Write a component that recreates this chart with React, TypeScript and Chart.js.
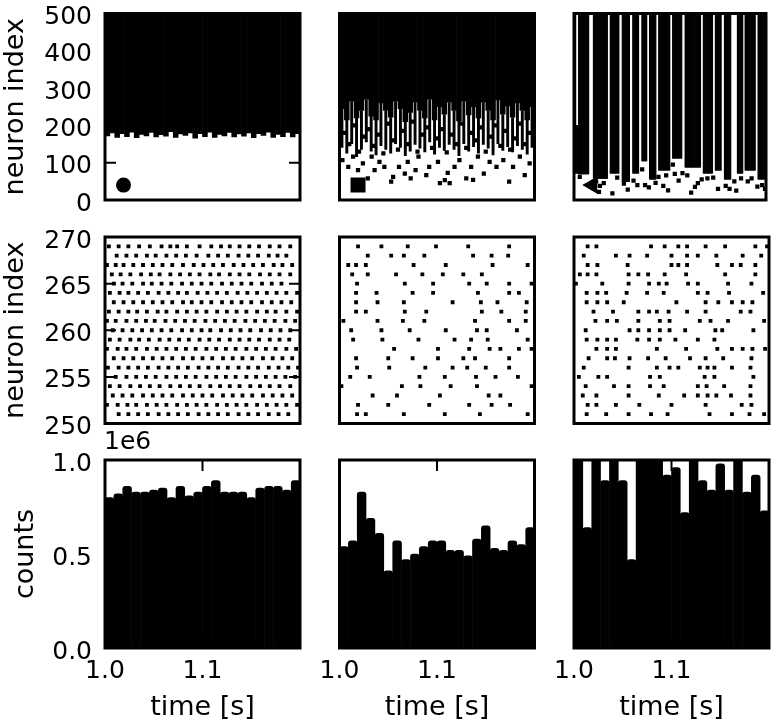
import React, { useEffect, useRef } from 'react';
import { Chart, registerables } from 'chart.js';

Chart.register(...registerables);
Chart.defaults.font.family = "'DejaVu Sans', sans-serif";
Chart.defaults.color = '#000';

// ---------------- layout constants ----------------
const FIG_W = 776;
const FIG_H = 727;
const COL_L = [105, 339.5, 574];
const PANEL_W = 195;
const ROW_T = [13.5, 237, 460];
const ROW_B = [200, 423.5, 648];
const TICK_FONT = 25;
const LABEL_FONT = 27;

// ---------------- data (time offsets in ms after t = 1.0 s) ----------------
const T_MIN = 1.0;
const T_MAX = 1.2;
const X_TICKS = [1.0, 1.1];

// Top row: dense raster blocks, columns of 5 ms
const COL_MS = [2.5, 7.5, 12.5, 17.5, 22.5, 27.5, 32.5, 37.5, 42.5, 47.5, 52.5, 57.5, 62.5, 67.5, 72.5, 77.5, 82.5, 87.5, 92.5, 97.5,
  102.5, 107.5, 112.5, 117.5, 122.5, 127.5, 132.5, 137.5, 142.5, 147.5, 152.5, 157.5, 162.5, 167.5, 172.5, 177.5, 182.5, 187.5, 192.5, 197.5];
// top-left: lower edge of the filled raster
const TL_LOW = [172, 180, 168, 178, 170, 182, 167, 176, 172, 181, 169, 175, 171, 183, 168, 177, 173, 180, 166, 178,
  170, 182, 168, 176, 172, 181, 169, 177, 171, 180, 167, 178, 173, 182, 168, 176, 170, 181, 169, 178];
// top-middle: dense part and chain part lower edges
const TM_LOW_DENSE = [245, 215, 265, 220, 240, 270, 225, 215, 260, 240, 222, 265, 245, 210, 235, 262, 240, 220, 270, 215,
  250, 230, 262, 240, 212, 265, 228, 250, 220, 262, 240, 215, 268, 230, 252, 222, 260, 240, 215, 250];
const TM_LOW_CHAIN = [140, 125, 150, 115, 135, 155, 130, 120, 145, 135, 125, 150, 140, 118, 130, 148, 138, 128, 155, 122,
  140, 132, 148, 135, 118, 150, 130, 142, 125, 148, 138, 120, 150, 132, 142, 128, 145, 135, 122, 140];
// top-middle: isolated spikes
const TM_DOT_MS = [3, 9, 14, 19, 24, 29, 33, 36, 41, 46, 53, 55, 61, 67, 70, 73, 78, 81, 89, 92, 101, 103, 108, 111, 113, 118, 123, 130, 135, 137, 142, 148, 154, 161, 168, 174, 178, 185, 190, 195,
  5, 10, 15, 20, 25, 30, 35, 40, 45, 50, 55, 60, 65, 70, 75, 80, 85, 90, 95, 100, 105, 110, 115, 120, 125, 130, 135, 140, 145, 150, 155, 160, 165, 170, 175, 180, 185, 190, 195];
const TM_DOT_IDX = [107, 89, 116, 80, 98, 58, 116, 80, 102, 89, 49, 62, 89, 71, 102, 58, 80, 116, 67, 89, 102, 45, 53, 73, 45, 89, 107, 58, 89, 54, 116, 71, 102, 89, 107, 49, 89, 116, 67, 98,
  180, 150, 200, 130, 170, 190, 145, 175, 125, 205, 160, 135, 185, 150, 210, 130, 175, 195, 140, 165, 190, 128, 175, 150, 205, 140, 180, 160, 195, 130, 170, 200, 145, 185, 135, 165, 205, 150, 180];
// top-right: vertical streaks [start ms, end ms, lowest index, highest index]
const TR_STREAKS: [number, number, number, number][] = [
  [0, 2, 72, 500], [2, 4.5, 72, 200], [4.5, 15.5, 70, 500], [20, 35, 58, 500], [37.5, 47, 72, 500], [50, 58, 50, 500],
  [61, 67.5, 72, 500], [70.5, 76, 105, 500], [78.5, 85.5, 56, 500], [88, 100, 80, 500], [102.5, 112.5, 112, 500],
  [115.5, 132, 88, 500], [134.5, 144.5, 72, 500], [147, 153.5, 80, 500], [156.5, 163.5, 56, 500], [170, 176, 72, 500],
  [178, 189, 80, 500], [191.5, 200, 56, 500],
];
const TR_DOT_MS = [6, 23, 27, 40, 52, 56, 66, 78, 85, 93, 96, 98, 105, 109, 122, 129, 139, 158, 162, 174, 181, 191, 196,
  26, 31, 45, 62, 71, 74, 88, 103, 113, 118, 126, 133, 145, 150, 167, 169, 185, 199];
const TR_DOT_IDX = [62, 50, 38, 18, 44, 28, 40, 34, 46, 38, 66, 26, 70, 52, 20, 45, 58, 38, 30, 58, 50, 36, 40,
  22, 45, 60, 52, 82, 40, 62, 95, 72, 66, 35, 55, 60, 30, 50, 25, 58, 30];
// marker symbols
const MARK_MS = 19;
const MARK_IDX = 40;

// Middle row: zoomed raster, neurons 269..251
const MID_NEURONS = [269, 268, 267, 266, 265, 264, 263, 262, 261, 260, 259, 258, 257, 256, 255, 254, 253, 252, 251];
const ML_SPIKES = [
  [4, 14, 24, 35, 46, 58, 67, 74, 84, 97, 109, 119, 128, 138, 148, 158, 169, 179, 190],
  [12, 22, 32, 43, 52, 63, 73, 83, 94, 106, 116, 126, 137, 147, 157, 168, 177, 186],
  [2, 11, 19, 29, 39, 49, 59, 69, 80, 91, 101, 111, 121, 132, 142, 152, 162, 173, 182, 192],
  [7, 16, 26, 37, 47, 56, 67, 77, 87, 97, 108, 117, 128, 138, 148, 159, 169, 179, 190],
  [9, 18, 28, 39, 48, 58, 68, 79, 89, 99, 109, 120, 130, 140, 150, 161, 171, 181],
  [5, 15, 24, 34, 44, 55, 65, 75, 84, 95, 105, 115, 125, 136, 146, 156, 166, 176, 186, 197],
  [9, 19, 29, 39, 49, 59, 69, 80, 89, 99, 109, 120, 130, 140, 150, 161, 171, 181, 191],
  [4, 14, 24, 33, 43, 54, 63, 74, 84, 94, 104, 115, 125, 135, 145, 156, 166, 175, 186, 197],
  [2, 11, 22, 32, 42, 51, 62, 72, 82, 92, 103, 113, 123, 133, 144, 154, 164, 174, 185, 195],
  [8, 18, 28, 38, 48, 58, 68, 79, 89, 99, 108, 119, 129, 139, 149, 160, 170, 180, 190],
  [5, 15, 26, 35, 45, 56, 66, 76, 86, 97, 107, 117, 128, 138, 148, 158, 169, 179, 189],
  [2, 13, 22, 32, 43, 53, 63, 73, 83, 93, 104, 114, 124, 134, 145, 155, 165, 175, 186, 196],
  [9, 19, 29, 39, 49, 59, 69, 80, 90, 100, 110, 121, 131, 141, 151, 162, 172, 182, 192],
  [3, 14, 24, 34, 44, 55, 65, 75, 85, 96, 106, 116, 126, 137, 147, 157, 168, 178, 188, 198],
  [11, 22, 32, 42, 52, 63, 73, 83, 93, 104, 114, 124, 134, 145, 155, 165, 175, 185, 195],
  [5, 15, 26, 36, 46, 56, 67, 77, 87, 97, 108, 118, 128, 138, 149, 159, 169, 179, 190],
  [8, 18, 28, 39, 49, 59, 69, 80, 90, 100, 110, 121, 131, 141, 151, 162, 172, 182, 192],
  [2, 13, 23, 32, 43, 53, 63, 74, 84, 94, 104, 115, 125, 135, 145, 156, 166, 176, 186, 197],
  [14, 24, 34, 44, 55, 65, 75, 85, 96, 106, 116, 126, 137, 147, 157, 168, 178, 188],
];
const MC_SPIKES = [
  [19, 43, 70, 99, 132, 174],
  [29, 53, 66, 87, 137, 156, 173],
  [9, 17, 27, 76, 109, 157, 193],
  [13, 29, 58, 85, 106, 127, 146],
  [18, 67, 96, 133, 151, 174, 197],
  [17, 38, 75, 96, 142, 174, 184],
  [17, 39, 66, 116, 145, 162, 192],
  [17, 27, 67, 89, 146, 166, 191],
  [4, 39, 65, 87, 139, 174, 191],
  [12, 43, 72, 109, 141, 151, 182],
  [14, 44, 81, 118, 135, 152, 193],
  [56, 101, 133, 154, 165, 184, 197],
  [17, 50, 75, 101, 127, 139, 174],
  [18, 51, 88, 116, 131, 150, 174],
  [11, 31, 82, 108, 140, 160, 183],
  [2, 64, 83, 114, 141, 197],
  [34, 59, 103, 153, 165],
  [19, 50, 92, 133, 156, 175],
  [18, 27, 66, 108, 144, 193],
];
const MR_SPIKES = [
  [14, 23, 79, 93, 107, 116, 135, 155, 186, 198],
  [10, 43, 57, 75, 100, 116, 127, 146, 173, 192],
  [14, 24, 55, 100, 107, 116, 147, 162, 171, 186],
  [6, 14, 23, 56, 66, 76, 93, 115, 155, 186],
  [2, 29, 56, 77, 87, 95, 117, 127, 158, 182],
  [13, 24, 33, 54, 75, 92, 127, 137, 159, 194],
  [13, 24, 34, 51, 105, 135, 148, 162, 173, 183],
  [20, 40, 66, 77, 85, 97, 116, 135, 171, 181],
  [22, 34, 44, 66, 88, 98, 129, 140, 158, 195],
  [12, 57, 66, 77, 88, 98, 114, 145, 152, 184],
  [13, 24, 34, 43, 65, 77, 88, 104, 127, 144],
  [23, 34, 43, 85, 115, 147, 162, 173, 183, 196],
  [15, 34, 42, 57, 76, 94, 119, 135, 153, 182],
  [10, 56, 85, 98, 107, 129, 137, 144, 162, 181],
  [5, 25, 34, 78, 88, 134, 144, 184],
  [12, 41, 56, 78, 92, 127, 136, 154, 181],
  [9, 23, 56, 87, 113, 127, 137, 146, 161, 181],
  [14, 23, 43, 67, 100, 135, 172, 182],
  [13, 33, 56, 79, 96, 139, 162, 180, 195],
];

// Bottom row: histogram of spike counts
const HIST_MS = [4.5, 13.6, 22.7, 31.8, 40.9, 50.0, 59.1, 68.2, 77.3, 86.4, 95.5, 104.5, 113.6, 122.7, 131.8, 140.9, 150.0, 159.1, 168.2, 177.3, 186.4, 195.5];
const HIST_LEFT = [800000, 820000, 860000, 830000, 830000, 840000, 850000, 800000, 860000, 810000, 830000, 860000, 890000, 830000, 830000, 830000, 800000, 850000, 860000, 860000, 840000, 890000];
const HIST_MID = [540000, 570000, 830000, 690000, 610000, 410000, 570000, 470000, 500000, 540000, 570000, 570000, 520000, 520000, 490000, 580000, 650000, 530000, 520000, 570000, 550000, 640000];
const HIST_RIGHT = [1100000, 640000, 1100000, 890000, 1100000, 890000, 470000, 1100000, 1100000, 1100000, 920000, 960000, 720000, 1100000, 890000, 840000, 980000, 840000, 1100000, 830000, 920000, 730000];

// ---------------- helpers ----------------
const toT = (ms: number) => T_MIN + ms / 1000;

const framePlugin = {
  id: 'frame',
  afterDatasetsDraw(chart: any, _args: any, opts: any) {
    const { ctx, chartArea: a } = chart;
    const xs = chart.scales.x;
    const ys = chart.scales.y;
    const len = 11;
    ctx.save();
    ctx.strokeStyle = '#000';
    ctx.lineWidth = 2;
    ctx.beginPath();
    (opts.xTicks || []).forEach((v: number) => {
      const px = xs.getPixelForValue(v);
      ctx.moveTo(px, a.bottom); ctx.lineTo(px, a.bottom - len);
      ctx.moveTo(px, a.top); ctx.lineTo(px, a.top + len);
    });
    (opts.yTicks || []).forEach((v: number) => {
      const py = ys.getPixelForValue(v);
      ctx.moveTo(a.left, py); ctx.lineTo(a.left + len, py);
      ctx.moveTo(a.right, py); ctx.lineTo(a.right - len, py);
    });
    ctx.stroke();
    ctx.lineWidth = 3;
    ctx.strokeRect(a.left, a.top, a.right - a.left, a.bottom - a.top);
    if (opts.offsetText) {
      ctx.fillStyle = '#000';
      ctx.font = `${TICK_FONT}px 'DejaVu Sans', sans-serif`;
      ctx.textAlign = 'left';
      ctx.textBaseline = 'alphabetic';
      ctx.fillText(opts.offsetText, a.left - 1, a.top - 11);
    }
    ctx.restore();
  },
};

function zeroPad(scale: any) {
  scale.paddingTop = 0;
  scale.paddingBottom = 0;
  scale.paddingLeft = 0;
  scale.paddingRight = 0;
}

interface PanelSpec {
  col: number;
  row: number;
  datasets: any[];
  yMin: number;
  yMax: number;
  yStep?: number;
  yTitle?: string;
  yTitlePad?: number;
  yFmt?: (v: number) => string;
  yTickMarks?: number[];
  xTitle?: string;
  xTickMarks?: number[];
  offsetText?: string;
}

function makeConfig(p: PanelSpec): any {
  const L = COL_L[p.col];
  const R = L + PANEL_W;
  const T = ROW_T[p.row];
  const B = ROW_B[p.row];
  const showY = !!p.yTitle;
  const showX = !!p.xTitle;
  return {
    type: 'bar',
    data: { datasets: p.datasets },
    options: {
      animation: false,
      responsive: false,
      devicePixelRatio: 1,
      events: [],
      layout: { padding: { left: showY ? 0 : L, top: T, right: FIG_W - R, bottom: showX ? 0 : FIG_H - B } },
      plugins: {
        legend: { display: false },
        tooltip: { enabled: false },
        frame: { xTicks: p.xTickMarks || [], yTicks: p.yTickMarks || [], offsetText: p.offsetText },
      },
      scales: {
        x: {
          type: 'linear',
          min: T_MIN,
          max: T_MAX,
          offset: false,
          display: showX,
          grid: { display: false, drawTicks: false },
          border: { display: false },
          ticks: {
            font: { size: TICK_FONT },
            padding: 8,
            autoSkip: false,
            maxRotation: 0,
            callback: (v: number) => Number(v).toFixed(1),
          },
          afterBuildTicks: (s: any) => { s.ticks = X_TICKS.map((v) => ({ value: v })); },
          title: { display: showX, text: p.xTitle || '', font: { size: LABEL_FONT }, padding: { top: 0, bottom: 3 } },
          afterFit: (s: any) => {
            s.height = showX ? FIG_H - B : 0;
            zeroPad(s);
          },
        },
        y: {
          type: 'linear',
          min: p.yMin,
          max: p.yMax,
          display: showY,
          grid: { display: false, drawTicks: false },
          border: { display: false },
          ticks: {
            font: { size: TICK_FONT },
            padding: 13,
            labelOffset: 4,
            autoSkip: false,
            stepSize: p.yStep,
            callback: (v: number) => (p.yFmt ? p.yFmt(Number(v)) : String(v)),
          },
          title: { display: showY, text: p.yTitle || '', font: { size: LABEL_FONT }, padding: { top: p.yTitlePad || 0, bottom: 0 } },
          afterFit: (s: any) => {
            s.width = showY ? L : 0;
            zeroPad(s);
          },
        },
      },
    },
    plugins: [framePlugin],
  };
}

const blockBars = (cols: number[], lows: number[], highs: number[] | number, pct: number) => ({
  type: 'bar',
  data: cols.map((c, i) => ({ x: toT(c), y: [lows[i], Array.isArray(highs) ? highs[i] : highs] })),
  backgroundColor: '#000',
  barPercentage: pct,
  categoryPercentage: 1,
  grouped: false,
  clip: 0,
});

const dots = (ms: number[], idx: number[], radius: number) => ({
  type: 'scatter',
  data: ms.map((m, i) => ({ x: toT(m), y: idx[i] })),
  pointStyle: 'rect',
  pointRadius: radius,
  pointBorderWidth: 0,
  backgroundColor: '#000',
  borderColor: '#000',
  clip: 0,
});

const rasterDots = (rows: number[][]) => ({
  type: 'scatter',
  data: rows.flatMap((row, r) => row.map((m) => ({ x: toT(m), y: MID_NEURONS[r] }))),
  pointStyle: 'rect',
  pointRadius: 2.7,
  pointBorderWidth: 0,
  backgroundColor: '#000',
  borderColor: '#000',
  clip: 0,
});

const marker = (style: string, radius: number, rotation = 0) => ({
  type: 'scatter',
  data: [{ x: toT(MARK_MS), y: MARK_IDX }],
  pointStyle: style,
  pointRadius: radius,
  pointRotation: rotation,
  pointBorderWidth: 0,
  backgroundColor: '#000',
  borderColor: '#000',
  clip: 0,
});

const histBars = (vals: number[]) => ({
  type: 'bar',
  data: HIST_MS.map((m, i) => ({ x: toT(m), y: vals[i] })),
  backgroundColor: '#000',
  barPercentage: 1,
  categoryPercentage: 1,
  borderRadius: 3,
  borderSkipped: 'start',
  clip: 0,
});

// top-right streaks expanded into 0.5 ms columns
const trColumns: number[] = [];
const trLows: number[] = [];
const trHighs: number[] = [];
TR_STREAKS.forEach(([s, e, lo, hi]) => {
  for (let m = s; m + 0.5 <= e + 1e-9; m += 0.5) {
    trColumns.push(m + 0.25);
    trLows.push(lo);
    trHighs.push(hi);
  }
});

const topFmt = (v: number) => String(v);
const countFmt = (v: number) => (v / 1e6).toFixed(1);

const PANELS: PanelSpec[] = [
  // top row
  {
    col: 0, row: 0, yMin: 0, yMax: 500, yStep: 100, yTitle: 'neuron index', yTitlePad: 0, yFmt: topFmt,
    yTickMarks: [100, 200, 300, 400],
    datasets: [marker('circle', 7.5), blockBars(COL_MS, TL_LOW, 500, 1)],
  },
  {
    col: 1, row: 0, yMin: 0, yMax: 500,
    datasets: [marker('rect', 10.6), dots(TM_DOT_MS, TM_DOT_IDX, 3), blockBars(COL_MS, TM_LOW_DENSE, 500, 1), blockBars(COL_MS, TM_LOW_CHAIN, TM_LOW_DENSE, 0.6)],
  },
  {
    col: 2, row: 0, yMin: 0, yMax: 500,
    datasets: [marker('triangle', 10, -90), dots(TR_DOT_MS, TR_DOT_IDX, 3), blockBars(trColumns, trLows, trHighs, 1)],
  },
  // middle row
  {
    col: 0, row: 1, yMin: 250, yMax: 270, yStep: 5, yTitle: 'neuron index', yTitlePad: 0, yFmt: topFmt,
    yTickMarks: [255, 260, 265],
    datasets: [rasterDots(ML_SPIKES)],
  },
  { col: 1, row: 1, yMin: 250, yMax: 270, datasets: [rasterDots(MC_SPIKES)] },
  { col: 2, row: 1, yMin: 250, yMax: 270, datasets: [rasterDots(MR_SPIKES)] },
  // bottom row
  {
    col: 0, row: 2, yMin: 0, yMax: 1000000, yStep: 500000, yTitle: 'counts', yTitlePad: 9.5, yFmt: countFmt,
    yTickMarks: [500000], xTitle: 'time [s]', xTickMarks: [1.1], offsetText: '1e6',
    datasets: [histBars(HIST_LEFT)],
  },
  { col: 1, row: 2, yMin: 0, yMax: 1000000, xTitle: 'time [s]', xTickMarks: [1.1], datasets: [histBars(HIST_MID)] },
  { col: 2, row: 2, yMin: 0, yMax: 1000000, xTitle: 'time [s]', xTickMarks: [1.1], datasets: [histBars(HIST_RIGHT)] },
];

function Panel({ spec }: { spec: PanelSpec }) {
  const ref = useRef<HTMLCanvasElement | null>(null);
  useEffect(() => {
    if (!ref.current) return;
    const chart = new Chart(ref.current, makeConfig(spec));
    return () => chart.destroy();
  }, [spec]);
  return (
    <canvas
      ref={ref}
      width={FIG_W}
      height={FIG_H}
      style={{ position: 'absolute', left: 0, top: 0, width: FIG_W, height: FIG_H, pointerEvents: 'none' }}
    />
  );
}

export default function App() {
  return (
    <div style={{ position: 'absolute', left: 0, top: 0, width: FIG_W, height: FIG_H, background: '#fff', overflow: 'hidden' }}>
      {PANELS.map((p, i) => (
        <Panel key={i} spec={p} />
      ))}
    </div>
  );
}
